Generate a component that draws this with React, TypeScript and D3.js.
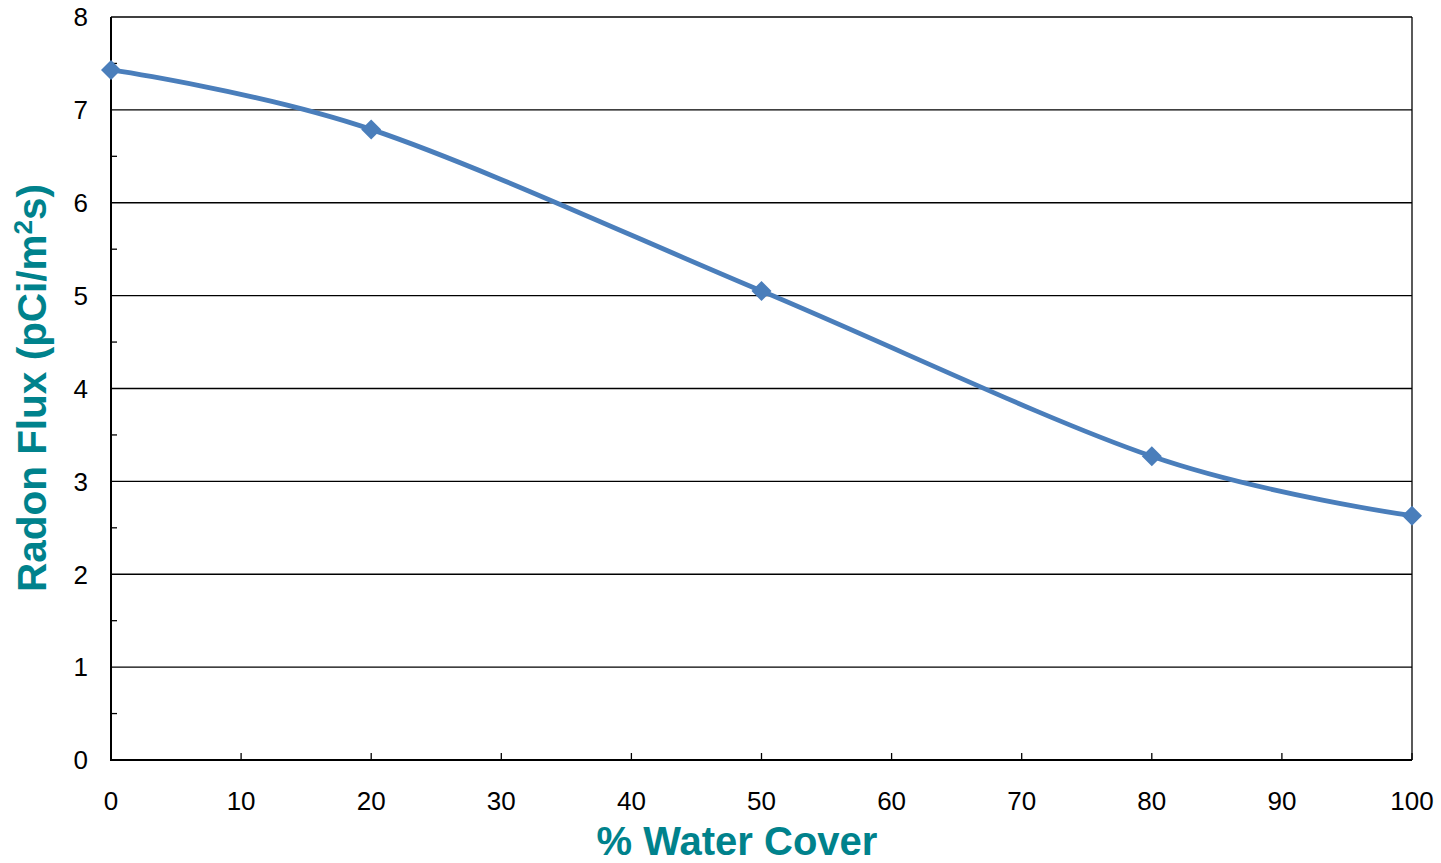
import React from "react";
import * as d3 from "d3";

const waterCover = [0, 20, 50, 80, 100];
const radonFlux = [7.43, 6.79, 5.05, 3.27, 2.63];
const xTicks = [0, 10, 20, 30, 40, 50, 60, 70, 80, 90, 100];
const yTicks = [0, 1, 2, 3, 4, 5, 6, 7, 8];
const yMinorTicks = [0.5, 1.5, 2.5, 3.5, 4.5, 5.5, 6.5, 7.5];
const xTitle = "% Water Cover";

const W = 1441, H = 863;
const left = 111, right = 1412, top = 17, bottom = 760;
const lineColor = "#4a7ebb";
const titleColor = "#00828c";
const font = "Arial, 'Liberation Sans', sans-serif";

export default function App() {
  const x = d3.scaleLinear().domain([0, 100]).range([left, right]);
  const y = d3.scaleLinear().domain([0, 8]).range([bottom, top]);
  const pts: [number, number][] = waterCover.map((v, i) => [x(v), y(radonFlux[i])]);
  const line = d3.line().curve(d3.curveCatmullRom.alpha(0))(pts) || "";
  const diamond = (cx: number, cy: number, r: number) =>
    `M${cx},${cy - r}L${cx + r},${cy}L${cx},${cy + r}L${cx - r},${cy}Z`;

  return (
    <svg width={W} height={H} style={{ position: "absolute", left: 0, top: 0, background: "#fff" }}>
      {yTicks.filter((t) => t > 0).map((t) => (
        <line key={"g" + t} x1={left} x2={right} y1={y(t)} y2={y(t)} stroke="#000" strokeWidth={1.3} />
      ))}
      <line x1={right} x2={right} y1={top} y2={bottom} stroke="#000" strokeWidth={1.3} />
      {yMinorTicks.map((t) => (
        <line key={"m" + t} x1={left} x2={left + 6} y1={y(t)} y2={y(t)} stroke="#000" strokeWidth={1.3} />
      ))}
      {xTicks.map((t) => (
        <line key={"xt" + t} x1={x(t)} x2={x(t)} y1={bottom} y2={bottom - 7} stroke="#000" strokeWidth={1.3} />
      ))}
      <line x1={left} x2={left} y1={top} y2={bottom + 1} stroke="#000" strokeWidth={2} />
      <line x1={left - 1} x2={right} y1={bottom} y2={bottom} stroke="#000" strokeWidth={2} />
      {yTicks.map((t) => (
        <text key={"yl" + t} x={left - 23} y={y(t)} dy="0.36em" textAnchor="end" fontFamily={font} fontSize={26} fill="#000">
          {t}
        </text>
      ))}
      {xTicks.map((t) => (
        <text key={"xl" + t} x={x(t)} y={bottom + 50} textAnchor="middle" fontFamily={font} fontSize={26} fill="#000">
          {t}
        </text>
      ))}
      <text x={737} y={855} textAnchor="middle" fontFamily={font} fontSize={40} fontWeight="bold" fill={titleColor}>
        {xTitle}
      </text>
      <text
        transform={`translate(46, ${388}) rotate(-90)`}
        textAnchor="middle"
        fontFamily={font}
        fontSize={40.5}
        fontWeight="bold"
        fill={titleColor}
      >
        Radon Flux (pCi/m<tspan fontSize={26} dy={-14}>2</tspan><tspan dy={14}>s)</tspan>
      </text>
      <path d={line} fill="none" stroke={lineColor} strokeWidth={4.8} strokeLinejoin="round" />
      {pts.map(([cx, cy], i) => (
        <path key={"pt" + i} d={diamond(cx, cy, 10)} fill={lineColor} />
      ))}
    </svg>
  );
}
